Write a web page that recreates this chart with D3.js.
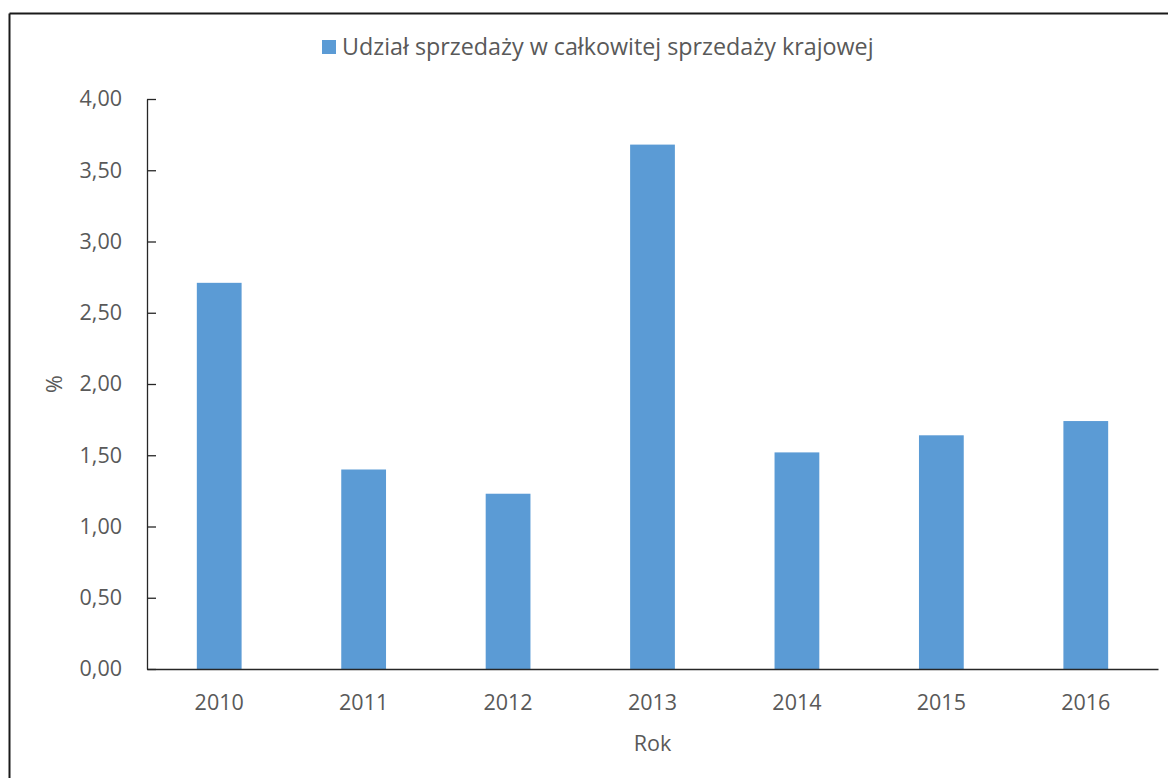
<!DOCTYPE html>
<html>
<head>
<meta charset="utf-8">
<script src="https://cdn.jsdelivr.net/npm/d3@7"></script>
<style>
  html, body { margin: 0; padding: 0; background: #fff; }
  svg { display: block; }
  text { font-family: "Open Sans", Lato, sans-serif; fill: #595959; }
</style>
</head>
<body>
<svg id="chart" width="1168" height="778"></svg>
<script>
// Udział sprzedaży w całkowitej sprzedaży krajowej, 2010–2016 (%)
const years = ["2010", "2011", "2012", "2013", "2014", "2015", "2016"];
const shares = [2.71, 1.40, 1.23, 3.68, 1.52, 1.64, 1.74];
const yTicks = [0, 0.5, 1, 1.5, 2, 2.5, 3, 3.5, 4];
const seriesName = "Udział sprzedaży w całkowitej sprzedaży krajowej";
const xTitle = "Rok";
const yTitle = "%";

const svg = d3.select("#chart");
const margin = { left: 147, right: 1158, top: 99, bottom: 669 };
const barColor = "#5b9bd5";
const font = "'Open Sans', Lato, sans-serif";
const fontSize = 21.5;

// outer frame (top and left edges visible)
svg.append("line").attr("x1", 9.5).attr("x2", 1168).attr("y1", 13.5).attr("y2", 13.5)
  .attr("stroke", "#1a1a1a").attr("stroke-width", 2);
svg.append("line").attr("x1", 9.5).attr("x2", 9.5).attr("y1", 13.5).attr("y2", 778)
  .attr("stroke", "#1a1a1a").attr("stroke-width", 2);

const x = d3.scaleBand().domain(years).range([margin.left, margin.right])
  .paddingInner(0.69).paddingOuter(0.345);
const y = d3.scaleLinear().domain([0, 4]).range([margin.bottom, margin.top]);

const fmt = v => d3.format(".2f")(v).replace(".", ",");

// bars
svg.append("g").selectAll("rect").data(years).join("rect")
  .attr("x", d => x(d))
  .attr("width", x.bandwidth())
  .attr("y", (d, i) => y(shares[i]))
  .attr("height", (d, i) => y(0) - y(shares[i]))
  .attr("fill", barColor);

// y axis with inward ticks
const yAxis = svg.append("g").attr("transform", `translate(${margin.left},0)`)
  .call(d3.axisLeft(y).tickValues(yTicks).tickFormat(fmt).tickSizeInner(-9).tickSizeOuter(0).tickPadding(25));
yAxis.select(".domain").attr("stroke", "#262626").attr("stroke-width", 1.3);
yAxis.selectAll(".tick line").attr("stroke", "#262626").attr("stroke-width", 1.3);
yAxis.selectAll(".tick text").attr("font-size", fontSize).attr("fill", "#595959")
  .attr("font-family", font);

// x axis
const xAxis = svg.append("g").attr("transform", `translate(0,${margin.bottom})`)
  .call(d3.axisBottom(x).tickSize(0).tickPadding(26));
xAxis.select(".domain").attr("stroke", "#262626").attr("stroke-width", 1.3);
xAxis.selectAll(".tick text").attr("font-size", fontSize).attr("fill", "#595959")
  .attr("font-family", font);

// axis titles
svg.append("text").attr("x", (margin.left + margin.right) / 2).attr("y", 751)
  .attr("text-anchor", "middle").attr("font-size", fontSize).text(xTitle);
svg.append("text").attr("transform", "translate(62,384) rotate(-90)")
  .attr("text-anchor", "middle").attr("font-size", fontSize).text(yTitle);

// legend
const legend = svg.append("g").attr("transform", "translate(322,47)");
legend.append("rect").attr("x", 0).attr("y", -7).attr("width", 14).attr("height", 14).attr("fill", barColor);
legend.append("text").attr("x", 20).attr("y", 0).attr("dy", "0.35em")
  .attr("font-size", 23.3).text(seriesName);
</script>
</body>
</html>
